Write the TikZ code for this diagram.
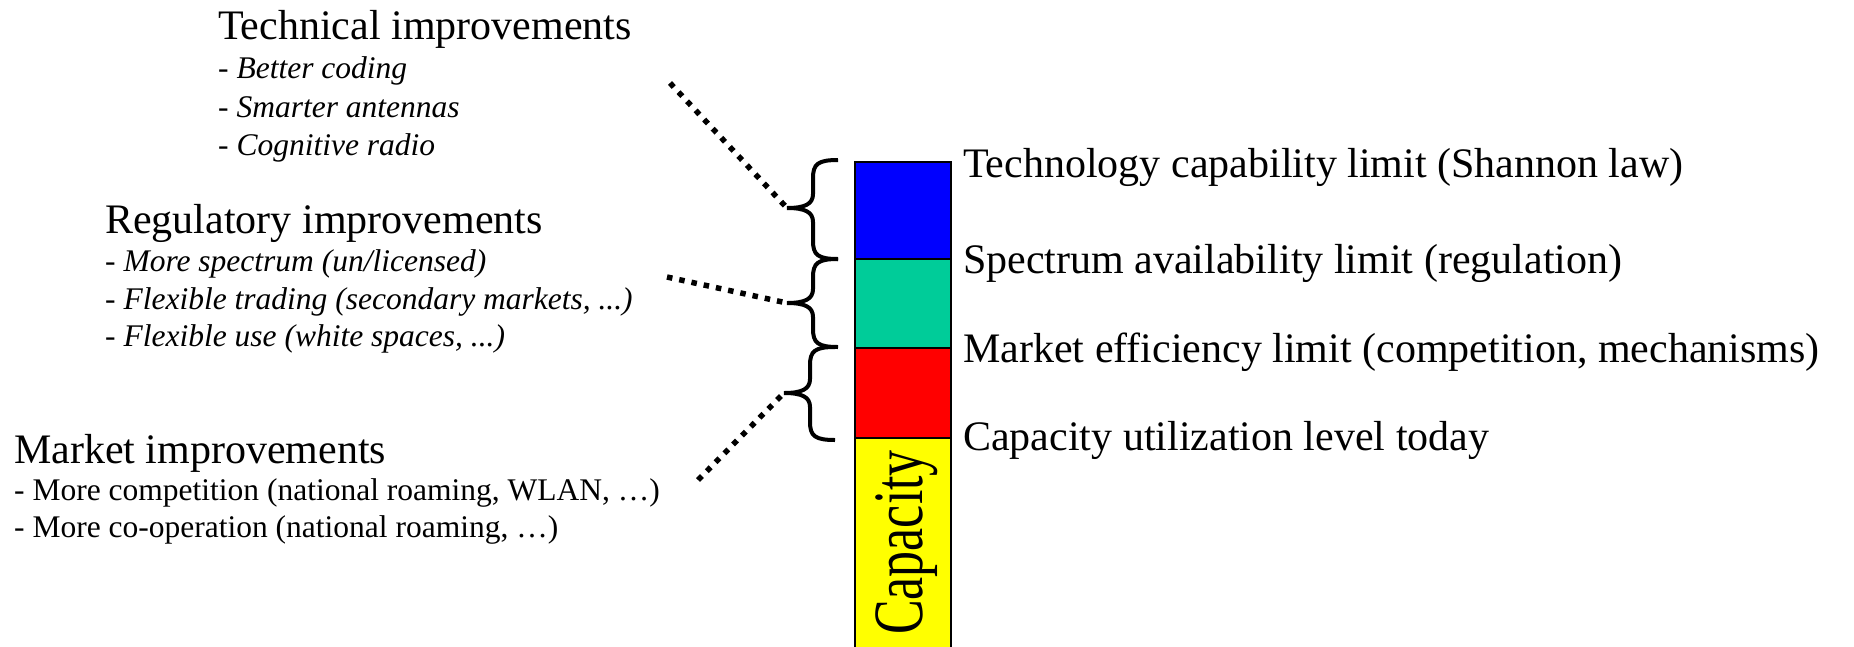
\documentclass[tikz,border=0pt]{standalone}
\usepackage{fontspec}
\setmainfont{Liberation Serif}
\usepackage{graphicx}
\definecolor{techblue}{RGB}{0,0,255}
\definecolor{specgreen}{RGB}{0,204,153}
\definecolor{mktred}{RGB}{255,0,0}
\definecolor{capyellow}{RGB}{255,255,0}
% curly brace: #1 top, #2 tip, #3 bottom (y values), #4 horizontal shift
\newcommand\curlybrace[4]{%
  \draw[brc, xshift=#4] (838,#1) .. controls (818,#1) and (813,{#1+4}) .. (813,{#1+18})
    -- (813,{#2-14})
    .. controls (813,{#2-4}) and (805,#2) .. (787,#2)
    .. controls (805,#2) and (813,{#2+4}) .. (813,{#2+14})
    -- (813,{#3-18})
    .. controls (813,{#3-4}) and (818,#3) .. (838,#3);}
\begin{document}
\begin{tikzpicture}[x=1pt, y=-1pt,
  head/.style={anchor=base west, inner sep=0pt, font=\fontsize{42}{42}\selectfont},
  subit/.style={anchor=base west, inner sep=0pt, font=\fontsize{31.5}{31.5}\selectfont\itshape},
  subup/.style={anchor=base west, inner sep=0pt, font=\fontsize{31.5}{31.5}\selectfont},
  lim/.style={anchor=base west, inner sep=0pt, font=\fontsize{42}{42}\selectfont},
  seg/.style={draw=black, line width=2.5pt, minimum width=96pt, inner sep=0pt, outer sep=0pt},
  brc/.style={line width=4pt},
  lead/.style={line width=5.5pt, dash pattern=on 5.5pt off 7pt}]
  \path[use as bounding box] (0,0) rectangle (1854,646);
  \clip (0,0) rectangle (1854,646);

  % capacity bar
  \node[seg, fill=capyellow, minimum height=222pt] (sCap)  at (903,549) {};
  \node[seg, fill=mktred,    minimum height=90pt]  (sMkt)  at (903,393) {};
  \node[seg, fill=specgreen, minimum height=89pt]  (sSpec) at (903,303.5) {};
  \node[seg, fill=techblue,  minimum height=97pt]  (sTech) at (903,210.5) {};
  \node[rotate=90, anchor=base, inner sep=0pt] (capTxt) at (922,542.5)
    {\scalebox{1}[1.36]{\fontsize{52}{52}\selectfont Capacity}};

  % limit labels
  \node[lim] (limTech) at (963,177) {Technology capability limit (Shannon law)};
  \node[lim] (limSpec) at (963,273) {Spectrum availability limit (regulation)};
  \node[lim] (limMkt)  at (963,362) {Market efficiency limit (competition, mechanisms)};
  \node[lim] (limCap)  at (963,450) {Capacity utilization level today};

  % braces
  \curlybrace{160}{208}{259}{0pt}
  \curlybrace{259}{303}{347}{0pt}
  \curlybrace{347}{393}{440}{-3pt}
  \coordinate (tipTech) at (787,208);
  \coordinate (tipReg)  at (787,303);
  \coordinate (tipMkt)  at (784,393);

  % improvement groups
  \node[head]  (tech)  at (218,39)  {Technical improvements};
  \node[subit] (tech1) at (218,78)  {- Better coding};
  \node[subit] (tech2) at (218,117) {- Smarter antennas};
  \node[subit] (tech3) at (218,155) {- Cognitive radio};

  \node[head]  (reg)  at (105,233) {Regulatory improvements};
  \node[subit] (reg1) at (105,271) {- More spectrum (un/licensed)};
  \node[subit] (reg2) at (105,309) {- Flexible trading (secondary markets, ...)};
  \node[subit] (reg3) at (105,346) {- Flexible use (white spaces, ...)};

  \node[head]  (mkt)  at (14,463) {Market improvements};
  \node[subup] (mkt1) at (14,500) {- More competition (national roaming, WLAN, …)};
  \node[subup] (mkt2) at (14,537) {- More co-operation (national roaming, …)};

  % dotted leaders
  \coordinate (leadTech) at (670,83);
  \coordinate (leadReg)  at (667,277);
  \coordinate (leadMkt)  at (698,480);
  \draw[lead] (leadTech) -- (tipTech);
  \draw[lead] (leadReg)  -- (tipReg);
  \draw[lead] (leadMkt)  -- (tipMkt);
\end{tikzpicture}
\end{document}
